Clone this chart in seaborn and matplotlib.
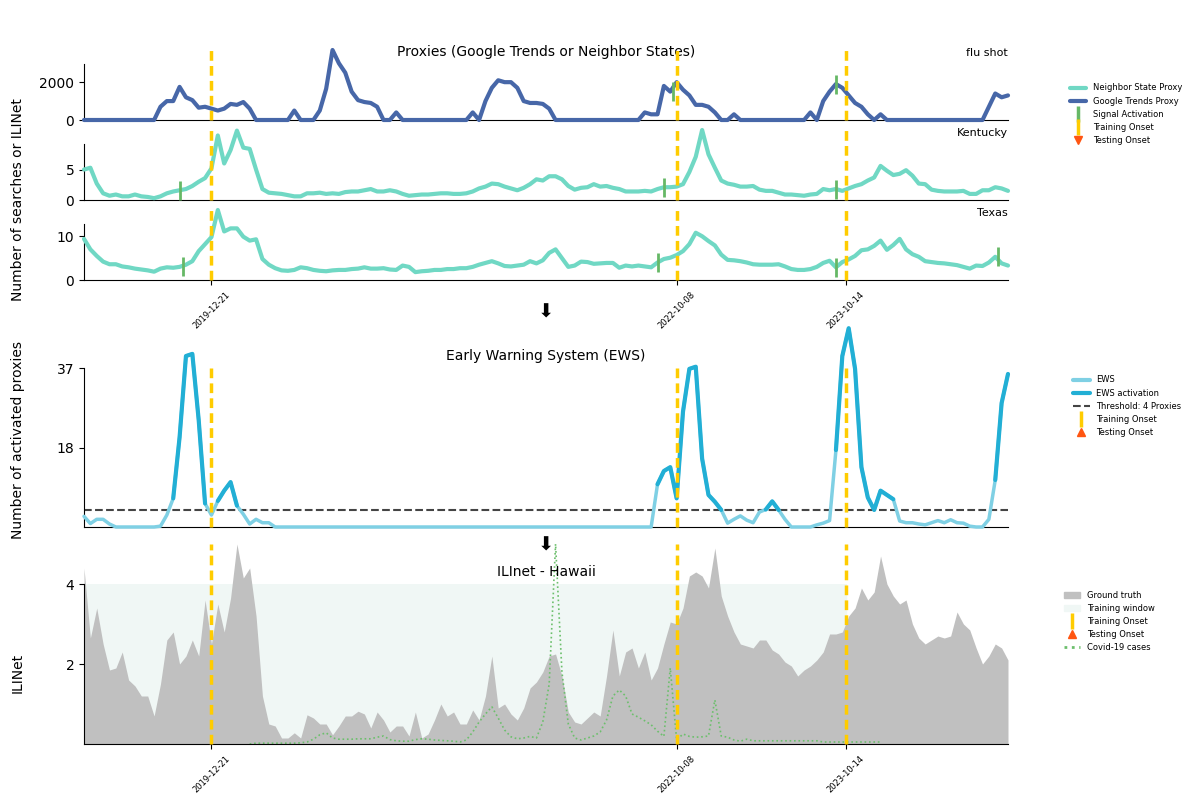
import numpy as np
import pandas as pd
import matplotlib
matplotlib.use("Agg")
import matplotlib.pyplot as plt
import seaborn as sns
from matplotlib.lines import Line2D
from matplotlib.patches import Patch
from matplotlib.ticker import MaxNLocator

# ---- data (biweekly samples) ----
start_date = "2019-03-16"
onset_dates = ["2019-12-21", "2022-10-08", "2023-10-14"]
threshold = 4

flu_shot = [
    0, 0, 0, 0, 0, 0, 0, 0, 0, 0, 0, 0,
    700, 1000, 1000, 1750, 1200, 1050, 650, 700, 600, 500, 600, 850, 800, 950, 600, 0,
    0, 0, 0, 0, 0,
    500, 0, 0, 0, 500, 1650, 3700, 3000, 2500, 1500, 1050, 950, 900, 700, 0, 0, 400,
    0, 0, 0, 0, 0, 0, 0, 0, 0, 0, 0,
    400, 0, 1000, 1700, 2100, 2000, 2000, 1700, 1000, 900, 900, 850, 600, 0,
    0, 0, 0, 0, 0, 0, 0, 0, 0, 0, 0, 0, 0,
    400, 300, 300, 1800, 1500, 2000, 1600, 1300, 800, 800, 700, 400, 0, 0, 300,
    0, 0, 0, 0, 0, 0, 0, 0, 0, 0, 0,
    400, 0, 1000, 1500, 1900, 1700, 1300, 900, 700, 300, 0, 300,
    0, 0, 0, 0, 0, 0, 0, 0, 0, 0, 0, 0, 0, 0, 0, 0,
    700, 1400, 1200, 1300,
]

kentucky = [
    5.0, 5.3, 2.7, 1.1, 0.7, 0.9, 0.6, 0.6, 0.9, 0.6,
    0.5, 0.3, 0.6, 1.1, 1.4, 1.6, 1.8, 2.3, 3.0, 3.6,
    5.2, 10.6, 6.0, 8.2, 11.4, 8.6, 8.4, 5.0, 1.8, 1.2,
    1.1, 1.0, 0.8, 0.6, 0.6, 1.1, 1.1, 1.2, 1.0, 1.1,
    1.0, 1.3, 1.4, 1.4, 1.6, 1.8, 1.4, 1.4, 1.6, 1.4,
    1.0, 0.7, 0.8, 0.9, 0.9, 1.0, 1.1, 1.1, 1.0, 1.0,
    1.1, 1.4, 1.9, 2.2, 2.7, 2.6, 2.2, 1.9, 1.6, 2.0,
    2.6, 3.4, 3.2, 3.9, 3.9, 3.4, 2.3, 1.7, 2.0, 2.1,
    2.6, 2.2, 2.3, 2.0, 1.8, 1.4, 1.4, 1.4, 1.5, 1.4,
    1.8, 2.1, 2.1, 2.2, 2.6, 4.6, 7.1, 11.5, 7.5, 5.3,
    3.2, 2.7, 2.5, 2.2, 2.2, 2.3, 1.7, 1.5, 1.5, 1.2,
    0.9, 0.9, 0.8, 0.7, 0.9, 1.0, 1.8, 1.6, 1.8, 1.5,
    1.9, 2.3, 2.6, 3.2, 3.7, 5.6, 4.8, 4.1, 4.3, 4.9,
    4.0, 2.7, 2.6, 1.7, 1.5, 1.4, 1.4, 1.4, 1.5, 1.0,
    1.0, 1.6, 1.6, 2.1, 1.9, 1.5,
]

texas = [
    9.4, 7.0, 5.5, 4.2, 3.6, 3.6, 3.1, 2.9, 2.6, 2.4,
    2.2, 1.9, 2.6, 2.9, 2.8, 3.0, 3.5, 4.3, 6.6, 8.2,
    9.8, 16.0, 11.1, 11.8, 11.8, 9.9, 9.0, 9.3, 4.8, 3.5,
    2.7, 2.2, 2.1, 2.3, 2.9, 2.7, 2.3, 2.1, 2.0, 2.2,
    2.3, 2.3, 2.5, 2.6, 2.9, 2.6, 2.6, 2.7, 2.4, 2.3,
    3.3, 3.0, 1.8, 2.0, 2.1, 2.3, 2.3, 2.5, 2.5, 2.7,
    2.7, 3.0, 3.5, 3.9, 4.3, 3.8, 3.2, 3.1, 3.3, 3.5,
    4.3, 3.8, 4.5, 6.2, 7.0, 5.0, 3.0, 3.3, 4.2, 4.1,
    3.7, 3.8, 3.9, 3.9, 2.8, 3.3, 3.1, 3.3, 3.1, 2.9,
    4.0, 4.8, 5.1, 5.7, 6.6, 8.2, 10.8, 10.0, 8.9, 7.9,
    5.8, 4.6, 4.5, 4.3, 4.0, 3.6, 3.5, 3.5, 3.5, 3.6,
    3.1, 2.5, 2.3, 2.3, 2.5, 3.0, 3.9, 4.4, 2.9, 4.1,
    4.7, 5.5, 6.8, 7.0, 7.8, 9.0, 6.9, 8.0, 9.4, 7.0,
    5.9, 5.3, 4.3, 4.1, 3.9, 3.8, 3.6, 3.4, 3.0, 2.6,
    3.3, 3.2, 4.0, 5.3, 3.8, 3.3,
]

ews = [
    2.5, 0.8, 1.8, 1.8, 0.7, 0, 0, 0, 0, 0, 0, 0,
    0.2, 2.8, 6.7, 21, 40, 40.5, 25, 5.5, 2.8, 6.1, 8.5, 10.5, 5.0, 3.0, 0.7, 1.8, 1.0, 1.0,
    0, 0, 0, 0, 0, 0, 0, 0, 0, 0, 0, 0, 0, 0, 0, 0, 0, 0, 0, 0,
    0, 0, 0, 0, 0, 0, 0, 0, 0, 0, 0, 0, 0, 0, 0, 0, 0, 0, 0, 0,
    0, 0, 0, 0, 0, 0, 0, 0, 0, 0, 0, 0, 0, 0, 0, 0, 0, 0, 0, 0,
    10, 13.1, 14, 6.7, 27, 37, 37.5, 16, 7.5, 5.9, 4.0, 0.9, 1.8, 2.6, 1.6, 1.0, 3.5, 4.1, 6.0, 4.0, 1.8,
    0, 0, 0, 0,
    0.5, 0.9, 1.5, 18, 40, 46.5, 37, 14, 6.9, 4.0, 8.5, 7.5, 6.5, 1.4, 1.0, 1.0,
    0.7, 0.5, 1.0, 1.5, 1.0, 1.7, 1.0, 0.9, 0.2, 0, 0, 1.8, 11, 29, 35.8,
]

ilinet = [
    4.4, 2.65, 3.4, 2.5, 1.85, 1.9, 2.3, 1.6, 1.45, 1.2,
    1.2, 0.7, 1.5, 2.6, 2.8, 2.0, 2.2, 2.6, 2.2, 3.6,
    2.5, 3.5, 2.8, 3.65, 5.0, 4.15, 4.4, 3.2, 1.2, 0.5,
    0.45, 0.15, 0.15, 0.28, 0.15, 0.73, 0.65, 0.5, 0.5, 0.23,
    0.45, 0.7, 0.7, 0.82, 0.75, 0.4, 0.8, 0.6, 0.3, 0.45,
    0.45, 0.2, 0.8, 0.15, 0.25, 0.6, 1.0, 0.7, 0.8, 0.5,
    0.5, 0.85, 0.6, 1.2, 2.2, 0.9, 1.0, 0.75, 0.6, 0.9,
    1.4, 1.55, 1.8, 2.2, 2.25, 1.7, 0.8, 0.55, 0.5, 0.65,
    0.8, 0.7, 1.7, 2.85, 1.7, 2.3, 2.4, 1.9, 2.3, 1.6,
    1.9, 2.5, 3.05, 3.0, 3.4, 4.2, 4.3, 4.2, 3.9, 4.9,
    3.7, 3.2, 2.8, 2.5, 2.45, 2.4, 2.6, 2.6, 2.35, 2.25,
    2.05, 1.95, 1.7, 1.85, 1.95, 2.1, 2.3, 2.75, 2.75, 2.8,
    3.2, 3.4, 3.9, 3.6, 3.8, 4.7, 4.0, 3.7, 3.5, 3.6,
    3.0, 2.65, 2.5, 2.6, 2.7, 2.65, 2.7, 3.3, 3.0, 2.85,
    2.4, 2.0, 2.2, 2.5, 2.4, 2.1,
]

covid_start_date = "2020-03-14"
covid = [
    0.0, 0.02, 0.02, 0.02, 0.02, 0.02, 0.02, 0.02, 0.03, 0.05,
    0.12, 0.23, 0.28, 0.15, 0.12, 0.12, 0.12, 0.13, 0.13, 0.13,
    0.17, 0.2, 0.11, 0.08, 0.07, 0.07, 0.11, 0.13, 0.12, 0.1,
    0.09, 0.08, 0.07, 0.05, 0.1, 0.3, 0.55, 0.75, 0.93, 0.65,
    0.35, 0.18, 0.13, 0.15, 0.19, 0.15, 0.55, 1.5, 5.0, 1.8,
    0.5, 0.15, 0.1, 0.15, 0.2, 0.3, 0.6, 1.2, 1.35, 1.2,
    0.75, 0.67, 0.58, 0.48, 0.32, 0.19, 1.9, 0.1, 0.25, 0.19,
    0.17, 0.18, 0.2, 1.1, 0.2, 0.17, 0.1, 0.07, 0.12, 0.08,
    0.08, 0.08, 0.08, 0.08, 0.08, 0.08, 0.08, 0.08, 0.08, 0.08,
    0.05, 0.05, 0.05, 0.05, 0.05, 0.05, 0.05, 0.05, 0.05, 0.05,
]

signal_dates = {
    "flu shot": ["2022-10-01", "2023-09-23"],
    "Kentucky": ["2019-10-12", "2022-09-10", "2023-09-23"],
    "Texas": ["2019-10-19", "2022-08-27", "2023-09-23", "2024-09-14"],
}

# ---- colours ----
c_google = "#4767a8"
c_neigh = "#70d8c4"
c_yellow = "#ffcc00"
c_signal = "#66b866"
c_test = "#ff5511"
c_ews = "#7fd0e4"
c_ews_act = "#22afd5"
c_gt = "#c0c0c0"
c_train = "#f0f7f5"
c_covid = "#6cbf6c"

dates = pd.date_range(start_date, periods=len(flu_shot), freq="14D")
covid_dates = pd.date_range(covid_start_date, periods=len(covid), freq="14D")
onsets = pd.to_datetime(onset_dates)
onset_labels = onset_dates

df = pd.DataFrame({"date": dates, "flu shot": flu_shot, "Kentucky": kentucky,
                   "Texas": texas, "ews": ews, "ilinet": ilinet})

sns.set_style("ticks")
plt.rcParams["font.family"] = ["DejaVu Sans"]
for key in ["text.color", "axes.labelcolor", "axes.edgecolor",
            "xtick.color", "ytick.color"]:
    plt.rcParams[key] = "black"

fig = plt.figure(figsize=(12, 8), dpi=100)
left, width = 0.07, 0.77
ax_flu = fig.add_axes([left, 0.85, width, 0.07])
ax_ky = fig.add_axes([left, 0.75, width, 0.07])
ax_tx = fig.add_axes([left, 0.65, width, 0.07])
ax_ews = fig.add_axes([left, 0.34125, width, 0.19875])
ax_ili = fig.add_axes([left, 0.07, width, 0.20])

xlim = (dates[0], dates[-1])


def onset_lines(ax, ymax):
    for d in onsets:
        ax.axvline(d, ymin=0, ymax=ymax, color=c_yellow, lw=2.5, ls="--",
                   dashes=(2.8, 1.5), clip_on=False, zorder=4)


# ---- proxies ----
proxy_axes = [(ax_flu, "flu shot", c_google), (ax_ky, "Kentucky", c_neigh),
              (ax_tx, "Texas", c_neigh)]
for ax, name, color in proxy_axes:
    sns.lineplot(data=df, x="date", y=name, ax=ax, color=color, lw=3,
                 clip_on=False, zorder=3)
    top = 0.8 * df[name].max()
    ax.set_ylim(0, top)
    ax.set_xlim(*xlim)
    ax.yaxis.set_major_locator(MaxNLocator(2, steps=[1, 2, 5, 10]))
    ax.set_xlabel("")
    ax.set_ylabel("")
    ax.set_title(name, loc="right", fontsize=8)
    onset_lines(ax, 1.25)
    half = 0.17 * top
    for sd in pd.to_datetime(signal_dates[name]):
        v = df[name].iloc[np.abs(dates - sd).argmin()]
        ax.vlines(sd, v - half, v + half, color=c_signal, lw=2, zorder=5,
                  clip_on=False)
    sns.despine(ax=ax)

ax_flu.set_title("Proxies (Google Trends or Neighbor States)", fontsize=10)
for ax in (ax_flu, ax_ky):
    ax.set_xticks([])
ax_tx.set_xticks(onsets)
ax_tx.set_xticklabels(onset_labels, rotation=45, fontsize=6)

# ---- EWS ----
ews_arr = np.array(ews, dtype=float)
ews_act = np.where(ews_arr >= threshold, ews_arr, np.nan)
sns.lineplot(data=df, x="date", y="ews", ax=ax_ews, color=c_ews, lw=2.5,
             clip_on=False, zorder=3)
ax_ews.plot(dates, ews_act, color=c_ews_act, lw=3, clip_on=False, zorder=3)
ax_ews.axhline(threshold, color="#444444", ls="--", lw=1.5, zorder=2)
ews_top = 0.8 * ews_arr.max()
ax_ews.set_ylim(0, ews_top)
ax_ews.set_xlim(*xlim)
ax_ews.set_yticks([ews_top / 2, ews_top])
ax_ews.set_yticklabels([str(int(ews_top / 2)), str(int(ews_top))])
ax_ews.set_xticks([])
ax_ews.set_xlabel("")
ax_ews.set_ylabel("")
ax_ews.set_title("Early Warning System (EWS)", fontsize=10)
onset_lines(ax_ews, 1.0)
sns.despine(ax=ax_ews)

# ---- ILINet ----
ili_top = 0.8 * max(ilinet)
ax_ili.axvspan(dates[0], onsets[-1], color=c_train, zorder=0)
ax_ili.fill_between(dates, ilinet, color=c_gt, lw=0, clip_on=False, zorder=1)
ax_ili.plot(covid_dates, covid, color=c_covid, ls=":", lw=1.2, clip_on=False,
            zorder=2)
ax_ili.set_ylim(0, ili_top)
ax_ili.set_xlim(*xlim)
ax_ili.set_yticks([ili_top / 2, ili_top])
ax_ili.set_yticklabels([str(int(ili_top / 2)), str(int(ili_top))])
ax_ili.set_xticks(onsets)
ax_ili.set_xticklabels(onset_labels, rotation=45, fontsize=6)
ax_ili.set_title("ILInet - Hawaii", fontsize=10)
onset_lines(ax_ili, 1.25)
sns.despine(ax=ax_ili)

# ---- side labels and arrows ----
fig.text(0.015, 0.751, "Number of searches or ILINet", rotation=90,
         ha="center", va="center", fontsize=10)
fig.text(0.015, 0.45, "Number of activated proxies", rotation=90,
         ha="center", va="center", fontsize=10)
fig.text(0.015, 0.159, "ILINet", rotation=90, ha="center", va="center",
         fontsize=10)
fig.text(0.455, 1 - 312 / 800, "\u2b07", ha="center", va="center",
         fontsize=14, color="black")
fig.text(0.455, 1 - 545 / 800, "\u2b07", ha="center", va="center",
         fontsize=14, color="black")

# ---- legends ----
onset_handle = Line2D([], [], color=c_yellow, marker="|", ls="None",
                      markersize=12, mew=2.5)
proxy_handles = [
    Line2D([], [], color=c_neigh, lw=3),
    Line2D([], [], color=c_google, lw=3),
    Line2D([], [], color=c_signal, marker="|", ls="None", markersize=12, mew=2.5),
    onset_handle,
    Line2D([], [], color=c_test, marker="v", ls="None", markersize=6),
]
fig.legend(proxy_handles, ["Neighbor State Proxy", "Google Trends Proxy",
                           "Signal Activation", "Training Onset", "Testing Onset"],
           loc="upper left", bbox_to_anchor=(0.885, 1 - 76 / 800), fontsize=6,
           frameon=False, handlelength=2, labelspacing=0.5)

ews_handles = [
    Line2D([], [], color=c_ews, lw=3),
    Line2D([], [], color=c_ews_act, lw=3),
    Line2D([], [], color="#444444", lw=1.5, ls="--"),
    onset_handle,
    Line2D([], [], color=c_test, marker="^", ls="None", markersize=6),
]
fig.legend(ews_handles, ["EWS", "EWS activation", "Threshold: 4 Proxies",
                         "Training Onset", "Testing Onset"],
           loc="upper left", bbox_to_anchor=(0.888, 1 - 368 / 800), fontsize=6,
           frameon=False, handlelength=2, labelspacing=0.5)

ili_handles = [
    Patch(color=c_gt),
    Patch(color=c_train),
    onset_handle,
    Line2D([], [], color=c_test, marker="^", ls="None", markersize=6),
    Line2D([], [], color=c_covid, lw=2, ls=":"),
]
fig.legend(ili_handles, ["Ground truth", "Training window", "Training Onset",
                         "Testing Onset", "Covid-19 cases"],
           loc="upper left", bbox_to_anchor=(0.88, 1 - 583 / 800), fontsize=6,
           frameon=False, handlelength=2, labelspacing=0.5)

fig.savefig("out.png", dpi=100)
